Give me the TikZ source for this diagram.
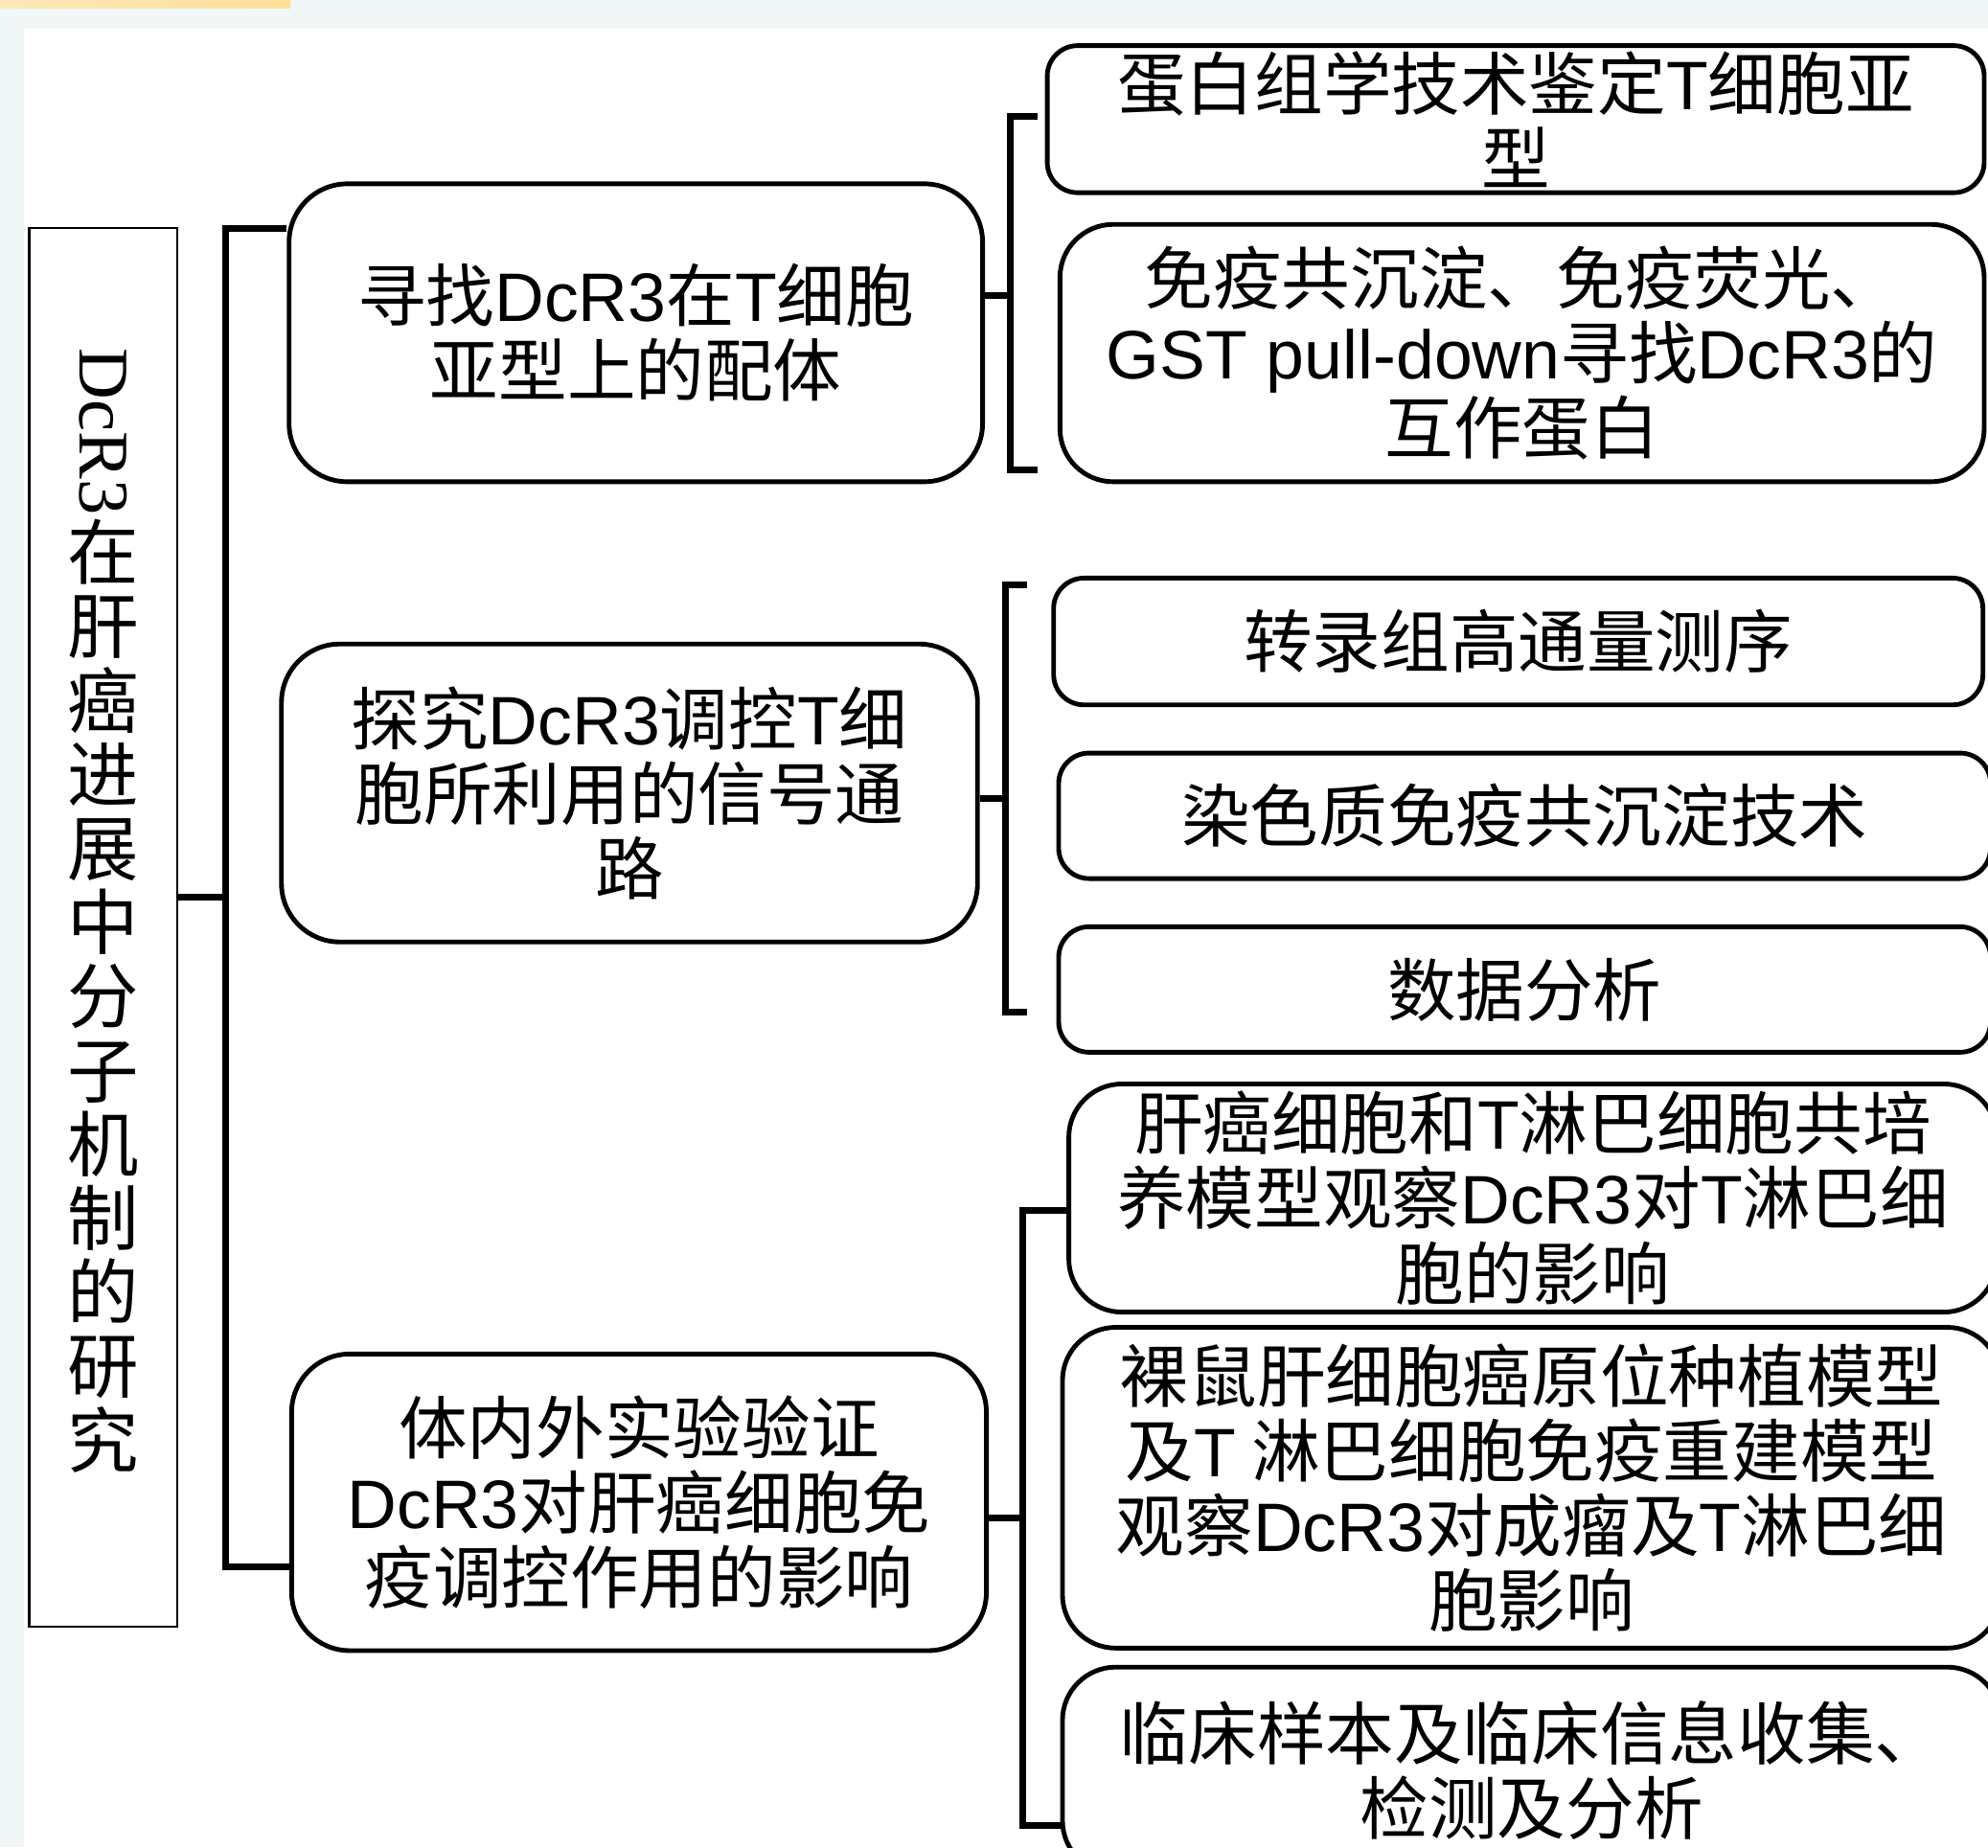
\documentclass[tikz,border=0pt]{standalone}
\usepackage{fontspec}
\usepackage{graphicx}
\setmainfont{Liberation Sans}
\newfontfamily\cjk{Noto Sans CJK SC}
\newfontfamily\tms{Liberation Serif}
\newcommand{\lat}[1]{{\rmfamily #1}}
\usetikzlibrary{positioning, shapes}
\definecolor{paper}{HTML}{F1F6F7}
\definecolor{barL}{HTML}{FDE8B8}
\definecolor{barR}{HTML}{FFE09A}

\begin{document}
\begin{tikzpicture}[x=0.1mm,y=-0.1mm]

		\tikzstyle{goal}=[rectangle,rounded corners=4.6mm,line width=1.05pt,draw=black,fill=white,
			inner sep=0pt,align=center,font=\cjk\fontsize{15.4pt}{16.8pt}\selectfont]
		\tikzstyle{method}=[goal,rounded corners=2.4mm]
		\tikzstyle{big method}=[goal,rounded corners=4.2mm]
		\tikzstyle{topic}=[rectangle,draw=black,line width=0.5pt,fill=white,inner sep=0pt,
			align=center,font=\cjk\fontsize{16pt}{16.6pt}\selectfont]
		\tikzstyle{link}=[line width=1.5pt]

		\useasboundingbox (0,0) rectangle (1568,1457);
		\fill[white] (0,0) rectangle (1568,1457);
		\fill[paper] (0,0) rectangle (1568,22.7);
		\fill[paper] (0,0) rectangle (19,1457);
		\shade[left color=barL,right color=barR] (0,0) rectangle (229,6.8);

		\node [topic, minimum width=11.7mm, minimum height=110.3mm] (M) at (81.5,731.5)
			{\rotatebox{-90}{\tms DcR3}\\在\\肝\\癌\\进\\展\\中\\分\\子\\机\\制\\的\\研\\究\rule[-3.1mm]{0pt}{0pt}};

		\node [goal, minimum width=54.7mm, minimum height=23.5mm] (A) at (501.5,262.5)
			{寻找\lat{DcR3}在\lat{T}细胞\\亚型上的配体};
		\node [goal, minimum width=54.9mm, minimum height=23.5mm] (B) at (496.5,625.5)
			{探究\lat{DcR3}调控\lat{T}细\\胞所利用的信号通\\路};
		\node [goal, minimum width=54.8mm, minimum height=23.4mm] (C) at (504,1185)
			{体内外实验验证\\\lat{DcR3}对肝癌细胞免\\疫调控作用的影响};

		\node [method, minimum width=73.9mm, minimum height=11.6mm] (A1) at (1195.5,94)
			{蛋白组学技术鉴定\lat{T}细胞亚\\型};
		\node [big method, minimum width=72.9mm, minimum height=20.3mm] (A2) at (1200.5,278.5)
			{免疫共沉淀、免疫荧光、\\\lat{GST pull-down}寻找\lat{DcR3}的\\互作蛋白};

		\node [method, minimum width=73.3mm, minimum height=10mm] (B1) at (1197.5,506)
			{转录组高通量测序};
		\node [method, minimum width=73.5mm, minimum height=9.9mm] (B2) at (1202.5,643.5)
			{染色质免疫共沉淀技术};
		\node [method, minimum width=73.5mm, minimum height=9.9mm] (B3) at (1202.5,780.5)
			{数据分析};

		\node [big method, minimum width=73.2mm, minimum height=18mm] (C1) at (1209,945)
			{肝癌细胞和\lat{T}淋巴细胞共培\\养模型观察\lat{DcR3}对\lat{T}淋巴细\\胞的影响};
		\node [big method, minimum width=74mm, minimum height=25.3mm] (C2) at (1208,1173.5)
			{裸鼠肝细胞癌原位种植模型\\及\lat{T} 淋巴细胞免疫重建模型\\观察\lat{DcR3}对成瘤及\lat{T}淋巴细\\胞影响};
		\node [big method, minimum width=74mm, minimum height=16.3mm] (C3) at (1208,1396.5)
			{临床样本及临床信息收集、\\检测及分析};

		\coordinate (trunk) at (178,708);
		\coordinate (ta) at (178,180);
		\coordinate (tc) at (178,1236);
		\draw [link] (M.east |- trunk) -- (trunk);
		\draw [link] (A.west |- ta) -- (ta) -- (tc) -- (C.west |- tc);

		\coordinate (ga) at (797,233);
		\coordinate (ga1) at (818,92);
		\coordinate (ga2) at (818,371);
		\draw [link] (A.east |- ga) -- (ga);
		\draw [link] (ga1) -| (ga) |- (ga2);

		\coordinate (gb) at (793,630);
		\coordinate (gb1) at (810,461);
		\coordinate (gb2) at (810,798);
		\draw [link] (B.east |- gb) -- (gb);
		\draw [link] (gb1) -| (gb) |- (gb2);

		\coordinate (gc) at (807,1197);
		\coordinate (gc1) at (C1.west |- 0,955);
		\coordinate (gc2) at (C3.west |- 0,1440);
		\draw [link] (C.east |- gc) -- (gc);
		\draw [link] (gc1) -| (gc) |- (gc2);
	\end{tikzpicture}
\end{document}
